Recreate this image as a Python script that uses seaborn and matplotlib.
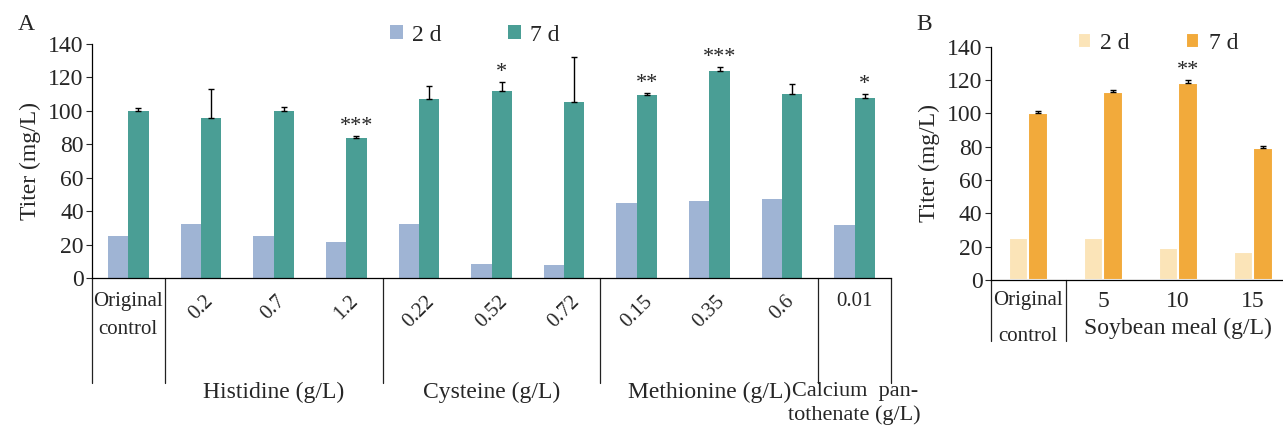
import numpy as np
import pandas as pd
import matplotlib
matplotlib.use("Agg")
import matplotlib.pyplot as plt
import seaborn as sns

# Panel A: amino acid / vitamin supplements
cats_a = ["Original\ncontrol", "0.2", "0.7", "1.2", "0.22", "0.52", "0.72",
          "0.15", "0.35", "0.6", "0.01"]
day2_a = [25, 32.5, 25, 21.5, 32.5, 8.5, 7.5, 45, 46, 47.5, 32]
day7_a = [100, 96, 100, 84, 107, 112, 105.5, 109.5, 124, 110, 107.5]
err7_a = [1.5, 17, 2.5, 1, 8, 5, 27, 1.2, 2.2, 6, 2.5]
stars_a = ["", "", "", "***", "", "*", "", "**", "***", "", "*"]
groups_a = ["Histidine (g/L)", "Cysteine (g/L)", "Methionine (g/L)",
            "Calcium  pan-\ntothenate (g/L)"]
group_idx_a = [[1, 2, 3], [4, 5, 6], [7, 8, 9], [10]]

# Panel B: soybean meal
cats_b = ["Original\ncontrol", "5", "10", "15"]
day2_b = [25, 25.5, 19, 17]
day7_b = [100, 113, 118.5, 79.5]
err7_b = [1.2, 1.2, 1.5, 1.0]
stars_b = ["", "", "**", ""]
groups_b = ["Soybean meal (g/L)"]
group_idx_b = [[1, 2, 3]]

days = ["2 d", "7 d"]
colors_a = ["#9fb4d4", "#4a9e95"]
colors_b = ["#fbe4b8", "#f2aa3b"]

sns.set_theme(style="white")
plt.rcParams["font.family"] = ["Liberation Serif", "DejaVu Serif"]

fig = plt.figure(figsize=(12.83, 4.30), dpi=100)
ax_a = fig.add_axes([0.0717, 0.3535, 0.6228, 0.5442])
ax_b = fig.add_axes([0.7722, 0.3488, 0.2270, 0.5426])


def panel(ax, cats, d2, d7, err, stars, groups, gidx, colors, width, edge,
          leg_pos, colsp, tick_rot, sep_depth, grp_y, lab_pad, xmax, lsp):
    n = len(cats)
    df = pd.DataFrame({"cat": cats * 2,
                       "day": [days[0]] * n + [days[1]] * n,
                       "titer": d2 + d7})
    sns.barplot(data=df, x="cat", y="titer", hue="day", order=cats,
                palette=colors, width=width, errorbar=None, saturation=1,
                edgecolor="white" if edge else None,
                linewidth=edge, ax=ax)
    # error bars (upper only) and significance stars on the 7 d bars
    bars7 = ax.containers[1]
    xs = [p.get_x() + p.get_width() / 2 for p in bars7]
    ax.errorbar(xs, d7, yerr=[np.zeros(n), err], fmt="none", ecolor="black",
                elinewidth=1, capsize=2.2, capthick=1, zorder=5)
    for x, v, e, s in zip(xs, d7, err, stars):
        if s:
            ax.annotate(s, (x, v + e), xytext=(0, 0), textcoords="offset points",
                        ha="center", va="bottom", fontsize=16)

    ax.set_ylim(0, 140)
    ax.set_yticks(range(0, 141, 20))
    ax.tick_params(axis="y", left=True, direction="out", length=4, width=0.8,
                   labelsize=17, pad=2)
    ax.tick_params(axis="x", bottom=False, labelsize=15, pad=lab_pad)
    for lbl in ax.get_xticklabels():
        if lbl.get_text() in tick_rot:
            lbl.set_rotation(45)
        else:
            lbl.set_linespacing(lsp)
    ax.set_xlabel("")
    ax.set_ylabel("Titer (mg/L)", fontsize=17, labelpad=5)
    sns.despine(ax=ax)
    for side in ["left", "bottom"]:
        ax.spines[side].set_color("black")
        ax.spines[side].set_linewidth(0.9)

    # group separators and group names under the axis
    trans = ax.get_xaxis_transform()
    bounds = [-0.5, 0.5] + [g[-1] + 0.5 for g in gidx]
    for xb in bounds:
        if xb <= xmax:
            ax.plot([xb, xb], [0, -sep_depth], transform=trans, color="#222222",
                    lw=0.9, clip_on=False)
    for name, g, gy in zip(groups, gidx, grp_y):
        multi = "\n" in name
        ax.text(np.mean(g), gy, name, transform=trans, ha="center",
                va="center", fontsize=16 if multi else 17, linespacing=1.3)

    h, l = ax.get_legend_handles_labels()
    ax.legend(h, l, loc="center", bbox_to_anchor=leg_pos, ncol=2,
              frameon=False, fontsize=17, handlelength=0.55, handleheight=0.55,
              handletextpad=0.4, columnspacing=colsp, borderaxespad=0)
    ax.set_xlim(-0.5, xmax)


panel(ax_a, cats_a, day2_a, day7_a, err7_a, stars_a, groups_a, group_idx_a,
      colors_a, 0.56, 0, (0.479, 1.038), 2.8,
      set(cats_a[1:10]), 0.449, [-0.49, -0.49, -0.49, -0.535], 4,
      len(cats_a) - 0.5, 1.65)

panel(ax_b, cats_b, day2_b, day7_b, err7_b, stars_b, groups_b, group_idx_b,
      colors_b, 0.52, 1.5, (0.574, 1.014), 2.4,
      set(), 0.26, [-0.208], 2, 3.384, 2.2)
for lbl in ax_b.get_xticklabels():
    if lbl.get_text() != cats_b[0]:
        lbl.set_fontsize(17)

fig.text(0.014, 0.942, "A", fontsize=17, va="center")
fig.text(0.714, 0.942, "B", fontsize=17, va="center")

fig.savefig("out.png", dpi=100, facecolor="white")
